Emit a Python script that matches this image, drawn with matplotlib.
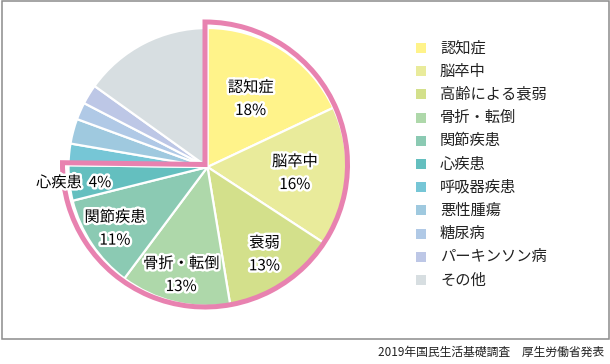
import matplotlib
matplotlib.use('Agg')
import matplotlib.pyplot as plt
from matplotlib.patches import Wedge, Rectangle
import matplotlib.patheffects as pe
import numpy as np

plt.rcParams['font.family'] = ['Noto Sans CJK JP', 'DejaVu Sans']

# ---- data ----
categories = ['認知症', '脳卒中', '高齢による衰弱', '骨折・転倒', '関節疾患', '心疾患',
              '呼吸器疾患', '悪性腫瘍', '糖尿病', 'パーキンソン病', 'その他']
values = [18.0, 16.2, 13.2, 12.8, 10.9, 4.1, 2.5, 2.9, 2.0, 2.3, 15.1]
slice_labels = ['認知症', '脳卒中', '衰弱', '骨折・転倒', '関節疾患', '心疾患']
colors = ['#FFF38A', '#E9EB9B', '#D3E08B', '#AED8AA', '#8BCAB3', '#64BFBF',
          '#76C6D6', '#9FC9DF', '#B0C9E6', '#BDC7E6', '#D7DEE1']
highlight_count = 6
footer = '2019年国民生活基礎調査　厚生労働省発表'

# ---- layout (pixel coordinates, y up) ----
W, H = 610, 364
fig = plt.figure(figsize=(W / 100, H / 100), dpi=100)
ax = fig.add_axes([0, 0, 1, 1])

cx, cy, R = 207.5, H - 167, 139
wedges, _ = ax.pie(values, colors=colors, startangle=90, counterclock=False,
                   center=(cx, cy), radius=R,
                   wedgeprops=dict(edgecolor='white', linewidth=1.6))
ax.set_xlim(0, W)
ax.set_ylim(0, H)
ax.set_aspect('equal')
ax.axis('off')

# highlight outline around first group
t_end = wedges[highlight_count - 1].theta1
t_start = wedges[0].theta2
off = 2.5
ax.add_patch(Wedge((cx - off, cy + off), R + 3.5, t_end, t_start, fill=False,
                   edgecolor='#E882B0', linewidth=3.6, joinstyle='miter', zorder=5))

stroke = [pe.withStroke(linewidth=3.5, foreground='white')]
dists = [0.58, 0.63, 0.75, 0.80, 0.80, 0.97]
fs = 11
for i, lab in enumerate(slice_labels):
    w = wedges[i]
    mid = np.deg2rad((w.theta1 + w.theta2) / 2)
    x = cx + R * dists[i] * np.cos(mid)
    y = cy + R * dists[i] * np.sin(mid)
    pct = f'{round(values[i])}%'
    if i == highlight_count - 1:
        ax.text(x, y, f'{lab}  {pct}', ha='center', va='center', fontsize=fs,
                path_effects=stroke, zorder=6)
    else:
        ax.text(x, y + 11.5, lab, ha='center', va='center', fontsize=fs,
                path_effects=stroke, zorder=6)
        ax.text(x, y - 11.5, pct, ha='center', va='center', fontsize=fs,
                path_effects=stroke, zorder=6)

# legend
ly0, lstep = H - 48, 23.2
for i, (cat, col) in enumerate(zip(categories, colors)):
    y = ly0 - i * lstep
    ax.add_patch(Rectangle((416, y - 5), 10, 10, facecolor=col, edgecolor='none'))
    ax.text(440, y, cat, ha='left', va='center', fontsize=fs, color='#222222')

# frame
ax.add_patch(Rectangle((1.5, H - 338.5), 607.5, 338, fill=False,
                       edgecolor='#8C8C8C', linewidth=1.1))

ax.text(604, H - 352, footer, ha='right', va='center', fontsize=8.5, color='#222222')

fig.savefig('out.png', dpi=100)
